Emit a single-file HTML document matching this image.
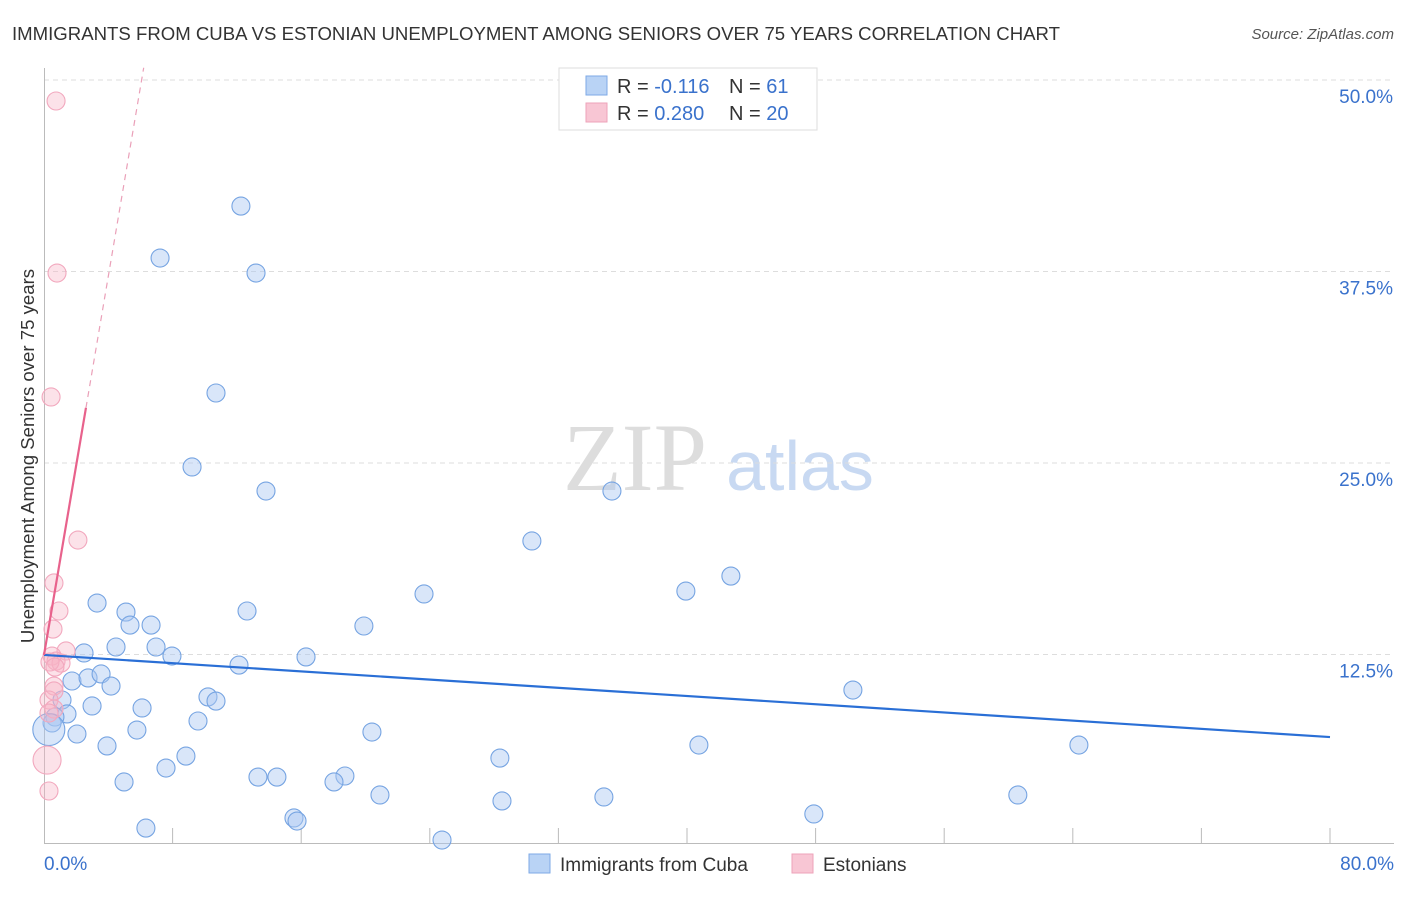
<!DOCTYPE html>
<html><head><meta charset="utf-8"><style>
body{margin:0;background:#fff;font-family:"Liberation Sans",sans-serif}
</style></head><body>
<svg id="chart" width="1406" height="892" xmlns="http://www.w3.org/2000/svg">
<text x="12" y="40" font-size="18.6" fill="#333">IMMIGRANTS FROM CUBA VS ESTONIAN UNEMPLOYMENT AMONG SENIORS OVER 75 YEARS CORRELATION CHART</text>
<text x="1394" y="39" font-size="15" fill="#555" font-style="italic" text-anchor="end">Source: ZipAtlas.com</text>
<text x="635" y="490" font-size="96" fill="#ddd" font-family="Liberation Serif,serif" text-anchor="middle">ZIP</text>
<text x="800" y="490" font-size="70" fill="#c8d9f2" text-anchor="middle">atlas</text>
<text transform="translate(34,456) rotate(-90)" font-size="18.6" fill="#333" text-anchor="middle">Unemployment Among Seniors over 75 years</text>
<g id="grid"></g><g id="marks"></g>
<g>
<rect x="559" y="68" width="258" height="62" fill="#fff" stroke="#ddd"/>
<rect x="586" y="76" width="21" height="19" fill="#b9d3f5" stroke="#7eaae6"/>
<rect x="586" y="103" width="21" height="19" fill="#f8c6d4" stroke="#eea3ba"/>
<text x="617" y="93" font-size="20" fill="#333">R = <tspan fill="#3a72cc">-0.116</tspan></text>
<text x="729" y="93" font-size="20" fill="#333">N = <tspan fill="#3a72cc"> 61</tspan></text>
<text x="617" y="120" font-size="20" fill="#333">R = <tspan fill="#3a72cc">0.280</tspan></text>
<text x="729" y="120" font-size="20" fill="#333">N = <tspan fill="#3a72cc">20</tspan></text>
</g>
<g>
<rect x="529" y="854" width="21" height="19" fill="#b9d3f5" stroke="#7eaae6"/>
<text x="560" y="871" font-size="19" fill="#333">Immigrants from Cuba</text>
<rect x="792" y="854" width="21" height="19" fill="#f8c6d4" stroke="#eea3ba"/>
<text x="823" y="871" font-size="19" fill="#333">Estonians</text>
</g>
</svg>
<script>
const yTicks=[12.5,25,37.5,50];
const yTickLabels=["12.5%","25.0%","37.5%","50.0%"];
const xTickLabels=["0.0%","80.0%"];
const cubaX=[12.25,7.22,13.19,10.70,9.21,13.81,35.33,30.35,42.73,39.93,23.64,3.30,5.10,12.63,6.66,5.35,19.90,4.48,6.97,2.49,7.96,16.30,12.13,1.74,2.74,3.55,4.17,50.32,10.20,10.70,1.12,2.99,6.10,1.43,0.68,9.58,0.50,5.78,20.40,2.05,3.92,40.74,64.38,8.83,28.36,7.59,13.31,14.49,18.72,18.04,4.98,20.90,60.58,34.83,28.49,47.89,15.55,15.74,6.34,24.76,0.3];
const cubaY=[41.77,38.38,37.40,29.57,24.74,23.17,23.17,19.91,17.62,16.64,16.45,15.86,15.27,15.34,14.42,14.42,14.36,12.99,12.99,12.60,12.40,12.34,11.81,10.77,10.97,11.23,10.44,10.18,9.73,9.46,9.53,9.14,9.01,8.62,8.42,8.16,8.03,7.57,7.44,7.31,6.53,6.59,6.59,5.87,5.74,5.09,4.50,4.50,4.57,4.18,4.18,3.33,3.33,3.20,2.94,2.09,1.83,1.63,1.17,0.39,7.6];
const estX=[0.75,0.81,0.44,2.11,0.62,0.93,0.56,1.37,0.50,0.75,1.06,0.37,0.62,0.62,0.31,0.62,0.31,0.19,0.31,0.68];
const estY=[48.63,37.40,29.31,19.97,17.17,15.34,14.16,12.73,12.40,12.07,11.94,12.01,10.44,10.12,9.53,8.94,8.68,5.61,3.59,11.68];
const cubaTrend=[12.47,7.11];
const estTrend=[12.47,6.18];
const NS="http://www.w3.org/2000/svg";
const X0=44,X1=1330,Y0=846,PY=15.32;
const sx=v=>X0+(X1-X0)*v/80, sy=v=>Y0-v*PY;
function mk(t,a,p){const e=document.createElementNS(NS,t);for(const k in a)e.setAttribute(k,a[k]);p.appendChild(e);return e;}
const grid=document.getElementById('grid'),marks=document.getElementById('marks');
yTicks.forEach((t,i)=>{
 const l=mk('line',{x1:X0,x2:1394,y1:sy(t),y2:sy(t),stroke:'#ddd','stroke-dasharray':'5,4'},grid);
 
 
 const tx=mk('text',{x:1393,y:sy(t)+23,'font-size':19,fill:'#3a72cc','text-anchor':'end'},grid);tx.textContent=yTickLabels[i];
 
 
});
for(let i=0;i<=10;i++){const x=X0+(X1-X0)*i/10;const l=mk('line',{x1:x,x2:x,y1:843,y2:i==0?843:828,stroke:'#bbb'},grid);
 
 }
const ax=mk('line',{x1:X0,x2:1394,y1:843.5,y2:843.5,stroke:'#bbb'},grid);


const ay=mk('line',{x1:44.5,x2:44.5,y1:68,y2:843,stroke:'#bbb'},grid);


[[xTickLabels[0],44,'start'],[xTickLabels[1],1394,'end']].forEach(([s,x,a])=>{const t=mk('text',{x:x,y:870,'font-size':19,fill:'#3a72cc','text-anchor':a},grid);t.textContent=s;
 
 });
cubaX.forEach((x,i)=>{const c=mk('circle',{cx:sx(x),cy:sy(cubaY[i]),r:i==cubaX.length-1?16:9,fill:'rgba(170,200,242,0.45)',stroke:'#76a4e2','stroke-width':1.1},marks);
 
 });
estX.forEach((x,i)=>{const c=mk('circle',{cx:sx(x),cy:sy(estY[i]),r:i==17?14:9,fill:'rgba(246,180,198,0.38)',stroke:'#f2a8be','stroke-width':1.1},marks);
 
 });
const bl=mk('line',{x1:sx(0),y1:sy(cubaTrend[0]),x2:sx(80),y2:sy(cubaTrend[1]),stroke:'#2a6fd6','stroke-width':2.2},marks);


const xs=2.61,xe=(50.8-estTrend[0])/estTrend[1];
const pl=mk('line',{x1:sx(0),y1:sy(estTrend[0]),x2:sx(xs),y2:sy(estTrend[0]+estTrend[1]*xs),stroke:'#e8628c','stroke-width':2.2},marks);


const pd=mk('line',{x1:sx(xs),y1:sy(estTrend[0]+estTrend[1]*xs),x2:sx(xe),y2:sy(50.8),stroke:'#eaa0b8','stroke-width':1.2,'stroke-dasharray':'6,5'},marks);


</script>
</body></html>
